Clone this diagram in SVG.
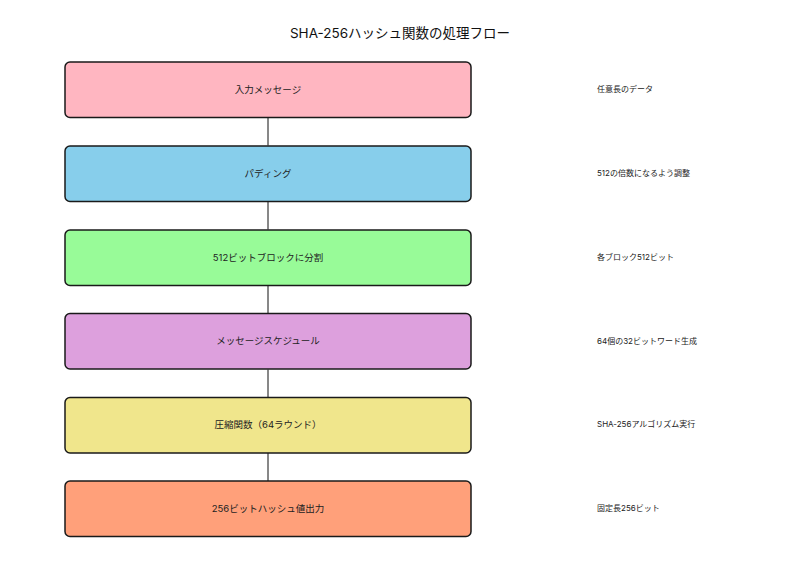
<svg xmlns="http://www.w3.org/2000/svg" width="800" height="570" viewBox="0 0 800 570">
<style>
.box{stroke:#1a1a1a;stroke-width:1.5}
.lbl{font-family:Inter,"Noto Sans CJK JP",sans-serif;font-size:9.5px;fill:#222;text-anchor:middle;dominant-baseline:central}
.note{font-family:Inter,"Noto Sans CJK JP",sans-serif;font-size:8px;fill:#222;dominant-baseline:central}
.title{font-family:Inter,"Noto Sans CJK JP",sans-serif;font-size:13.5px;fill:#111;text-anchor:middle;dominant-baseline:central}
.conn{stroke:#111;stroke-width:1;fill:none}
</style>
<rect width="800" height="570" fill="#fff"/>
<text class="title" x="400" y="33">SHA-256ハッシュ関数の処理フロー</text>
<g id="connectors">
<line class="conn" x1="268" y1="117.5" x2="268" y2="145.5"/>
<line class="conn" x1="268" y1="201.5" x2="268" y2="229.5"/>
<line class="conn" x1="268" y1="285.5" x2="268" y2="313.5"/>
<line class="conn" x1="268" y1="369.5" x2="268" y2="397.5"/>
<line class="conn" x1="268" y1="453" x2="268" y2="481"/>
</g>
<g id="n1"><rect class="box" x="65" y="62" width="406" height="55.5" rx="5" fill="#FFB6C1"/><text class="lbl" x="268" y="89">入力メッセージ</text></g>
<g id="n2"><rect class="box" x="65" y="146" width="406" height="55.5" rx="5" fill="#87CEEB"/><text class="lbl" x="268" y="173">パディング</text></g>
<g id="n3"><rect class="box" x="65" y="230" width="406" height="55.5" rx="5" fill="#98FB98"/><text class="lbl" x="268" y="257">512ビットブロックに分割</text></g>
<g id="n4"><rect class="box" x="65" y="313.5" width="406" height="55.5" rx="5" fill="#DDA0DD"/><text class="lbl" x="268" y="340.5">メッセージスケジュール</text></g>
<g id="n5"><rect class="box" x="65" y="397.5" width="406" height="55.5" rx="5" fill="#F0E68C"/><text class="lbl" x="268" y="424.5">圧縮関数（64ラウンド）</text></g>
<g id="n6"><rect class="box" x="65" y="481" width="406" height="55.5" rx="5" fill="#FFA07A"/><text class="lbl" x="268" y="508">256ビットハッシュ値出力</text></g>
<g id="notes">
<text class="note" x="597" y="89">任意長のデータ</text>
<text class="note" x="597" y="173">512の倍数になるよう調整</text>
<text class="note" x="597" y="257">各ブロック512ビット</text>
<text class="note" x="597" y="340.5">64個の32ビットワード生成</text>
<text class="note" x="597" y="424">SHA-256アルゴリズム実行</text>
<text class="note" x="597" y="508">固定長256ビット</text>
</g>
</svg>
